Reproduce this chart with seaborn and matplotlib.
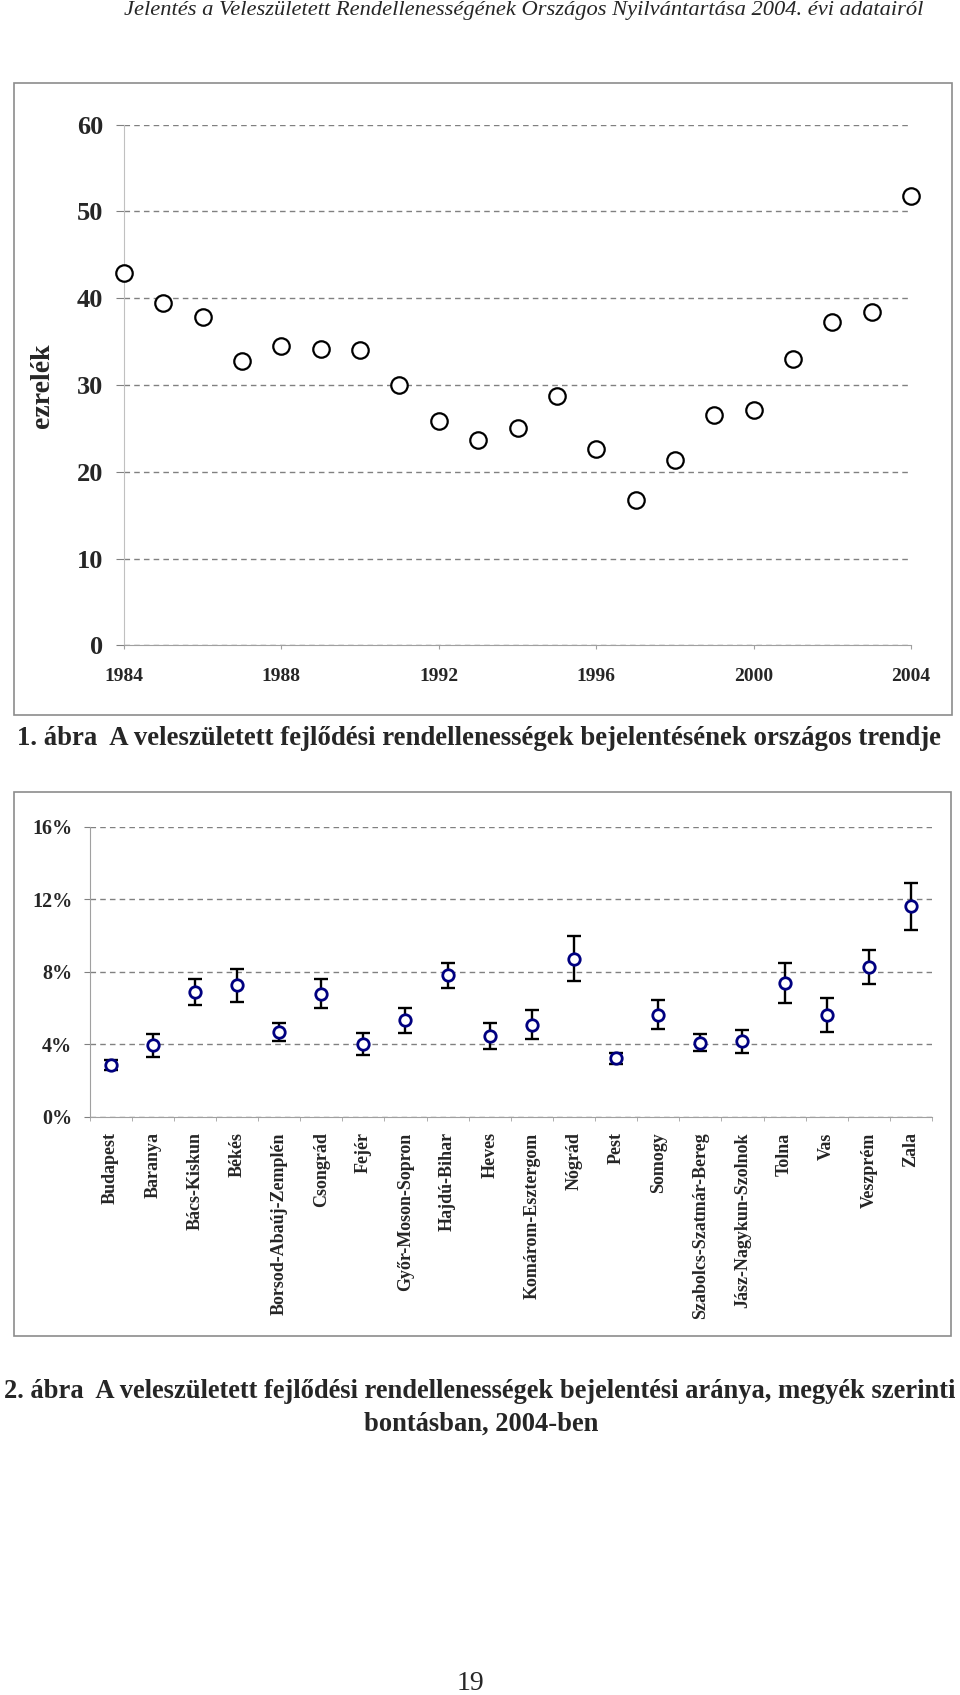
import matplotlib
matplotlib.use("Agg")
import matplotlib.pyplot as plt
from matplotlib.patches import Rectangle
import seaborn as sns
import pandas as pd
import numpy as np

# 1. ábra: országos trend (ezrelék)
years = list(range(1984, 2005))
rates = [42.9, 39.5, 37.8, 32.8, 34.5, 34.2, 34.0, 30.0, 25.8, 23.7, 25.0,
         28.7, 22.6, 16.8, 21.4, 26.6, 27.1, 33.0, 37.2, 38.4, 51.8]

# 2. ábra: megyénkénti arány, 2004 (%)
counties = ['Budapest', 'Baranya', 'Bács-Kiskun', 'Békés', 'Borsod-Abaúj-Zemplén',
            'Csongrád', 'Fejér', 'Győr-Moson-Sopron', 'Hajdú-Bihar', 'Heves',
            'Komárom-Esztergom', 'Nógrád', 'Pest', 'Somogy', 'Szabolcs-Szatmár-Bereg',
            'Jász-Nagykun-Szolnok', 'Tolna', 'Vas', 'Veszprém', 'Zala']
pct = [2.84, 3.94, 6.90, 7.25, 4.70, 6.77, 4.04, 5.32, 7.80, 4.46,
       5.08, 8.72, 3.23, 5.63, 4.09, 4.17, 7.38, 5.61, 8.26, 11.60]
pct_low = [2.57, 3.28, 6.18, 6.35, 4.20, 5.98, 3.43, 4.62, 7.08, 3.72,
           4.29, 7.50, 2.90, 4.84, 3.61, 3.52, 6.29, 4.66, 7.32, 10.29]
pct_high = [3.12, 4.59, 7.61, 8.17, 5.19, 7.58, 4.62, 6.00, 8.50, 5.19,
            5.89, 9.98, 3.52, 6.46, 4.59, 4.79, 8.50, 6.55, 9.21, 12.90]

sns.set_style("white")
plt.rcParams['font.family'] = ['Liberation Serif', 'DejaVu Serif']

W, H = 960, 1695
fig = plt.figure(figsize=(9.6, 16.95), dpi=100)


def fx(px):
    return px / W


def fy(py):
    return 1 - py / H


# keretek
for x0, y0, x1, y1 in [(14, 83, 952, 715), (14, 792, 951, 1336)]:
    fig.patches.append(Rectangle((fx(x0), fy(y1)), fx(x1) - fx(x0), fy(y0) - fy(y1),
                                 transform=fig.transFigure, fill=False,
                                 edgecolor='#8c8c8c', lw=1.2))

grid_kw = dict(linestyle=(0, (4, 3)), color='#808080', lw=1.0)

# --- felső ábra ---
ax1 = fig.add_axes([fx(124), fy(645.5), fx(911) - fx(124), fy(124.5) - fy(645.5)])
trend = pd.DataFrame({'év': years, 'ezrelék': rates})
sns.scatterplot(data=trend, x='év', y='ezrelék', ax=ax1, s=140, color='white',
                edgecolor='black', linewidth=1.6, zorder=3, clip_on=False)
ax1.set_xlim(1984, 2004)
ax1.set_ylim(0, 60)
ax1.set_xlabel('')
ax1.set_ylabel('')
yt = list(range(0, 61, 10))
ax1.set_yticks(yt, [str(t) for t in yt], fontsize=19, fontweight='bold')
xt = list(range(1984, 2005, 4))
ax1.set_xticks(xt, [str(t) for t in xt], fontsize=14, fontweight='bold')
ax1.yaxis.grid(True, **grid_kw)
ax1.set_axisbelow(True)
for s in ['top', 'right']:
    ax1.spines[s].set_visible(False)
ax1.spines['left'].set_color('#c0c0c0')
ax1.spines['bottom'].set_color('#a0a0a0')
ax1.tick_params(axis='y', length=6, color='#808080', pad=9, left=True)
ax1.tick_params(axis='x', length=3, color='#a0a0a0', pad=13, bottom=True)

fig.text(fx(43), fy(386), 'ezrelék', rotation=90, ha='center', va='center',
         fontsize=20, fontweight='bold')

# --- alsó ábra ---
ax2 = fig.add_axes([fx(89.5), fy(1117), fx(932) - fx(89.5), fy(826.5) - fy(1117)])
df = pd.DataFrame({'megye': counties, 'arány': pct, 'alsó': pct_low, 'felső': pct_high})
yerr = [df['arány'] - df['alsó'], df['felső'] - df['arány']]
ax2.errorbar(df['megye'], df['arány'], yerr=yerr, fmt='none', ecolor='black',
             elinewidth=1.7, capsize=4.8, capthick=1.7, zorder=2)
sns.scatterplot(data=df, x='megye', y='arány', ax=ax2, s=68, color='white',
                edgecolor='#000080', linewidth=2.0, zorder=3)
ax2.set_xlim(-0.5, len(counties) - 0.5)
ax2.set_ylim(0, 16)
ax2.set_xlabel('')
ax2.set_ylabel('')
pt = [0, 4, 8, 12, 16]
ax2.set_yticks(pt, [f'{t}%' for t in pt], fontsize=14.5, fontweight='bold')
ax2.set_xticks(np.arange(len(counties)), counties, rotation=90, fontsize=13,
               fontweight='bold')
ax2.set_xticks(np.arange(len(counties) + 1) - 0.5, minor=True)
ax2.yaxis.grid(True, **grid_kw)
ax2.set_axisbelow(True)
for s in ['top', 'right']:
    ax2.spines[s].set_visible(False)
ax2.spines['left'].set_color('#a0a0a0')
ax2.spines['bottom'].set_color('#a0a0a0')
ax2.tick_params(axis='y', length=4.5, color='#808080', pad=8, left=True)
ax2.tick_params(axis='x', which='major', length=0, pad=11)
ax2.tick_params(axis='x', which='minor', length=3, color='#a0a0a0', bottom=True)

# --- szövegek ---
fig.text(fx(524), fy(11), 'Jelentés a Veleszületett Rendellenességének Országos '
         'Nyilvántartása 2004. évi adatairól', ha='center', va='center',
         fontsize=16.2, style='italic')
fig.text(fx(479), fy(739), '1. ábra  A veleszületett fejlődési rendellenességek '
         'bejelentésének országos trendje', ha='center', va='center',
         fontsize=19.3, fontweight='bold')
fig.text(fx(480), fy(1392), '2. ábra  A veleszületett fejlődési rendellenességek '
         'bejelentési aránya, megyék szerinti', ha='center', va='center',
         fontsize=19.1, fontweight='bold')
fig.text(fx(481), fy(1424), 'bontásban, 2004-ben', ha='center', va='center',
         fontsize=19.1, fontweight='bold')
fig.text(fx(470), fy(1684), '19', ha='center', va='center', fontsize=20)

fig.savefig('out.png', dpi=100)
